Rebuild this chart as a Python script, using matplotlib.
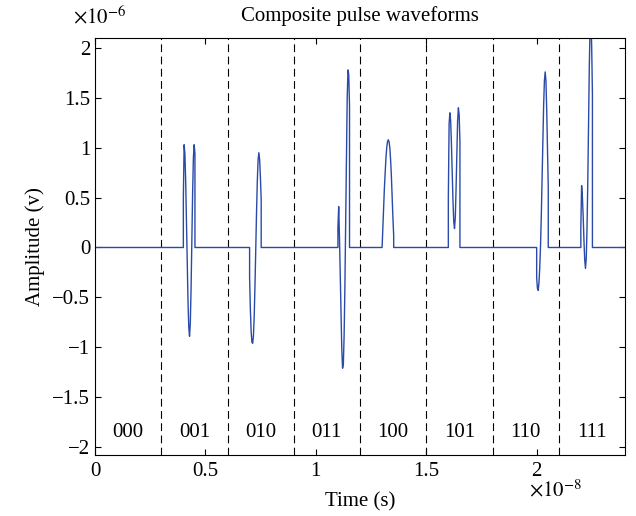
import numpy as np
import matplotlib
matplotlib.use('Agg')
import matplotlib.pyplot as plt
from matplotlib.ticker import FixedLocator, FuncFormatter

plt.rcParams['font.family'] = ['Liberation Serif', 'DejaVu Serif']
plt.rcParams['mathtext.fontset'] = 'stix'

# 3-bit symbols, one per 3 ns slot, and the time each composite pulse starts (ns)
symbols = ['000', '001', '010', '011', '100', '101', '110', '111']
pulse_start_ns = [1, 4, 7, 11, 13, 16, 20, 22]
slot_edges_ns = [3, 6, 9, 12, 15, 18, 21]
sample_step_ns = 0.035

# basis pulses (x1e-6 V), one sample every sample_step_ns
pulse_a = [0.50, 1.03, 0.94, 0.67, 0.28, -0.14, -0.53, -0.80,
           -0.89, -0.76, -0.41, 0.07, 0.55, 0.90, 1.03, 0.94]
pulse_b = [-0.30, -0.62, -0.84, -0.95, -0.96, -0.88, -0.68, -0.37,
           0.00, 0.36, 0.67, 0.88, 0.95, 0.88, 0.70, 0.48]
pulse_c = [0.00, 0.21, 0.41, 0.60, 0.76, 0.90, 1.00, 1.06,
           1.08, 1.06, 1.00, 0.88, 0.72, 0.50, 0.30, 0.12]

x_ticks = [0, 0.5e-8, 1e-8, 1.5e-8, 2e-8]
y_ticks = [-2e-6, -1.5e-6, -1e-6, -0.5e-6, 0, 0.5e-6, 1e-6, 1.5e-6, 2e-6]


def build_waveform():
    bases = [np.array(pulse_c), np.array(pulse_b), np.array(pulse_a)]
    t = [0.0]
    v = [0.0]
    for sym, t0 in zip(symbols, pulse_start_ns):
        shape = np.zeros(len(pulse_a))
        for bit, base in zip(sym, bases):
            if bit == '1':
                shape = shape + base
        times = t0 + sample_step_ns * np.arange(len(shape))
        t += [t0] + list(times) + [times[-1]]
        v += [0.0] + list(shape) + [0.0]
    t.append(24.0)
    v.append(0.0)
    return np.array(t) * 1e-9, np.array(v) * 1e-6


def fmt(scale):
    return FuncFormatter(lambda val, pos: f'{val * scale:g}'.replace('-', '\u2212'))


t, v = build_waveform()
fs = 15

fig = plt.figure(figsize=(6.36, 5.16), dpi=100)
ax = fig.add_axes([0.1494, 0.1182, 0.8333, 0.8082])

for edge in slot_edges_ns:
    ax.axvline(edge * 1e-9, color='black', lw=0.8, ls=(0, (7, 4)))
ax.plot(t, v, color='#2a4aa8', lw=1.0)

for i, sym in enumerate(symbols):
    ax.text((i * 3 + 1.5) * 1e-9, -1.85e-6, sym, ha='center', va='center', fontsize=fs)

ax.set_xlim(0, 2.4e-8)
ax.set_ylim(-2.08e-6, 2.1e-6)
ax.xaxis.set_major_locator(FixedLocator(x_ticks))
ax.yaxis.set_major_locator(FixedLocator(y_ticks))
ax.xaxis.set_major_formatter(fmt(1e8))
ax.yaxis.set_major_formatter(fmt(1e6))
ax.tick_params(direction='in', top=True, right=True, length=4, labelsize=fs, width=0.8)
ax.tick_params(axis='x', pad=5)
for s in ax.spines.values():
    s.set_linewidth(0.8)

ax.text(-0.0415, 1.05, r'$\times10^{-6}$', transform=ax.transAxes,
        ha='left', va='center', fontsize=fs)
ax.text(0.819, -0.084, r'$\times10^{-8}$', transform=ax.transAxes,
        ha='left', va='center', fontsize=fs)

ax.set_title('Composite pulse waveforms', fontsize=fs, pad=12)
ax.set_xlabel('Time (s)', fontsize=fs, labelpad=8)
ax.set_ylabel('Amplitude (v)', fontsize=fs, labelpad=5)

fig.savefig('out.png', dpi=100)
